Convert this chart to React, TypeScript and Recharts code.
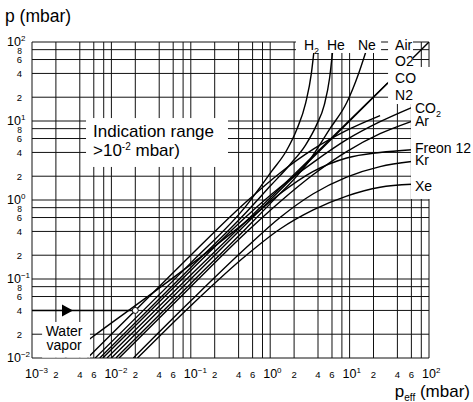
import React from "react";
import {
  LineChart,
  Line,
  XAxis,
  YAxis,
  CartesianGrid,
  ReferenceDot,
  ReferenceLine,
} from "recharts";

const FONT = "'Liberation Sans', Arial, Helvetica, sans-serif";

const W = 473;
const H = 402;
const MARGIN = { top: 42, right: 44, bottom: 0, left: 0 };
const Y_AXIS_W = 32;
const X_AXIS_H = 44;

const X_DOMAIN: [number, number] = [0.001, 100];
const Y_DOMAIN: [number, number] = [0.01, 100];

const X_TICKS = [
  0.001, 0.002, 0.004, 0.006, 0.008, 0.01, 0.02, 0.04, 0.06, 0.08, 0.1, 0.2,
  0.4, 0.6, 0.8, 1, 2, 4, 6, 8, 10, 20, 40, 60, 80, 100,
];
const Y_TICKS = [
  0.01, 0.02, 0.04, 0.06, 0.08, 0.1, 0.2, 0.4, 0.6, 0.8, 1, 2, 4, 6, 8, 10, 20,
  40, 60, 80, 100,
];

// [p_eff, p indicated]
const h2: [number, number][] = [
  [0.00625, 0.01], [0.1, 0.16], [0.5, 0.85], [1.04, 2.3], [1.6, 4.2],
  [2.16, 7.8], [2.8, 17], [3.3, 40], [3.55, 75],
];
const he: [number, number][] = [
  [0.00714, 0.01], [0.1, 0.14], [0.5, 0.7], [1, 1.5], [1.77, 2.8], [2.8, 5],
  [3.85, 9], [4.8, 16], [5.6, 35], [6.1, 75],
];
const ne: [number, number][] = [
  [0.0114, 0.01], [0.1, 0.088], [0.5, 0.44], [1, 0.9], [3, 3], [5.66, 8],
  [9.18, 17], [13, 40], [16, 75],
];
const n2: [number, number][] = [[0.01, 0.01], [1, 1], [100, 100]];
const o2: [number, number][] = [
  [0.0088, 0.01], [0.1, 0.112], [1, 1.07], [10, 10.2], [30, 30],
];
const co2: [number, number][] = [
  [0.0078, 0.01], [0.1, 0.128], [0.5, 0.62], [1.33, 1.45], [3.49, 3.0],
  [9.18, 5.8], [24.2, 9.8], [60.5, 14.8],
];
const ar: [number, number][] = [
  [0.0125, 0.01], [0.1, 0.08], [0.5, 0.39], [1.33, 0.95], [3.49, 2.1],
  [9.18, 4.1], [24.2, 6.9], [60.5, 9.9],
];
const freon: [number, number][] = [
  [0.0026, 0.01], [0.0057, 0.0183], [0.03, 0.062], [0.175, 0.234],
  [0.6, 0.62], [1.33, 1.2], [3.49, 2.3], [9.18, 3.4], [24.2, 4.0],
  [60.5, 4.33],
];
const kr: [number, number][] = [
  [0.0189, 0.01], [0.1, 0.053], [0.5, 0.25], [1.33, 0.6], [3.49, 1.2],
  [9.18, 1.95], [24.2, 2.65], [60.5, 3.07],
];
const xe: [number, number][] = [
  [0.0213, 0.01], [0.1, 0.046], [0.5, 0.2], [1.33, 0.43], [3.49, 0.75],
  [9.18, 1.12], [24.2, 1.45], [60.5, 1.58],
];
const water: [number, number][] = [
  [0.005, 0.01], [0.02, 0.04], [0.1, 0.2], [0.5, 0.95], [1.33, 2.2],
  [3.49, 4.4], [9.18, 7.6], [24.2, 11.7],
];

const WATER_MARK = { x: 0.02, y: 0.04 };
const ARROW_X = 0.00276;

const SERIES = [
  { name: "H2", pts: h2 },
  { name: "He", pts: he },
  { name: "Ne", pts: ne },
  { name: "N2", pts: n2 },
  { name: "O2", pts: o2 },
  { name: "CO2", pts: co2 },
  { name: "Ar", pts: ar },
  { name: "Freon 12", pts: freon },
  { name: "Kr", pts: kr },
  { name: "Xe", pts: xe },
  { name: "Water vapor", pts: water },
];

const toPts = (arr: [number, number][]) => arr.map(([x, y]) => ({ x, y }));

// same log mapping the chart uses, for the label overlay
const plotL = MARGIN.left + Y_AXIS_W;
const plotT = MARGIN.top;
const plotW = W - MARGIN.right - plotL;
const plotH = H - MARGIN.bottom - X_AXIS_H - plotT;
const lx0 = Math.log10(X_DOMAIN[0]);
const lx1 = Math.log10(X_DOMAIN[1]);
const ly0 = Math.log10(Y_DOMAIN[0]);
const ly1 = Math.log10(Y_DOMAIN[1]);
const sx = (v: number) => plotL + ((Math.log10(v) - lx0) / (lx1 - lx0)) * plotW;
const sy = (v: number) => plotT + ((ly1 - Math.log10(v)) / (ly1 - ly0)) * plotH;

const split = (v: number) => {
  const e = Math.floor(Math.log10(v) + 1e-9);
  const m = Math.round(v / Math.pow(10, e));
  return { e, m };
};
const supText = (e: number) => (e < 0 ? "\u2212" + -e : String(e));

const XTick = (props: any) => {
  const { x, payload } = props;
  const { e, m } = split(payload.value);
  if (m === 1)
    return (
      <text x={x - 7} y={378} fontSize={12.5} fontFamily={FONT} fill="#000">
        10
        <tspan dy={-5} fontSize={8}>
          {supText(e)}
        </tspan>
      </text>
    );
  if (m === 8) return <g />;
  return (
    <text x={x} y={378} fontSize={9.5} textAnchor="middle" fontFamily={FONT} fill="#000">
      {m}
    </text>
  );
};

const YTick = (props: any) => {
  const { y, payload } = props;
  const { e, m } = split(payload.value);
  if (m === 1)
    return (
      <text x={7} y={y + 4} fontSize={12.5} fontFamily={FONT} fill="#000">
        10
        <tspan dy={-5} fontSize={8}>
          {supText(e)}
        </tspan>
      </text>
    );
  return (
    <text
      x={19.5}
      y={y + (m === 8 ? 4 : 3.5)}
      fontSize={m === 8 ? 8.5 : 9.5}
      textAnchor="middle"
      fontFamily={FONT}
      fill="#000"
    >
      {m}
    </text>
  );
};

const sub = (s: string) => (
  <tspan dy={4} fontSize={9}>
    {s}
  </tspan>
);

type Item = { dx: number; dy: number; text: React.ReactNode; anchor?: string; size?: number };
type Box = { x1: number; x2: number; y1: number; y2: number; items: Item[] };

// white label backgrounds (data units) with their texts
const BOXES: Box[] = [
  {
    x1: 0.00479, x2: 0.294, y1: 2.62, y2: 10.9,
    items: [
      { dx: 7, dy: 19, text: "Indication range", size: 17 },
      {
        dx: 7, dy: 38, size: 17,
        text: (
          <>
            {">10"}
            <tspan dy={-6} fontSize={10}>-2</tspan>
            <tspan dy={6}> mbar)</tspan>
          </>
        ),
      },
    ],
  },
  {
    x1: 0.00134, x2: 0.00537, y1: 0.0101, y2: 0.0286,
    items: [
      { dx: 22, dy: 14, text: "Water", anchor: "middle" },
      { dx: 22, dy: 28, text: "vapor", anchor: "middle" },
    ],
  },
  {
    x1: 2.11, x2: 24.9, y1: 72.6, y2: 130,
    items: [
      { dx: 8, dy: 17, text: <>H{sub("2")}</> },
      { dx: 31, dy: 17, text: "He" },
      { dx: 62, dy: 17, text: "Ne" },
    ],
  },
  { x1: 62.9, x2: 109, y1: 16.4, y2: 48.3, items: [] },
  {
    x1: 30.5, x2: 62.9, y1: 16.4, y2: 130,
    items: [
      { dx: 7, dy: 17, text: "Air" },
      { dx: 7, dy: 33, text: "O2" },
      { dx: 7, dy: 50, text: "CO" },
      { dx: 7, dy: 67, text: "N2" },
    ],
  },
  {
    x1: 59.3, x2: 358, y1: 1.03, y2: 18.5,
    items: [
      { dx: 4, dy: 13, text: <>CO{sub("2")}</> },
      { dx: 4, dy: 26, text: "Ar" },
      { dx: 4, dy: 53, text: "Freon 12" },
      { dx: 4, dy: 65, text: "Kr" },
      { dx: 4, dy: 91, text: "Xe" },
    ],
  },
];

const Triangle = (p: any) => (
  <polygon
    points={`${p.cx - 5},${p.cy - 6} ${p.cx + 6},${p.cy} ${p.cx - 5},${p.cy + 6}`}
    fill="#000"
  />
);

export default function App() {
  return (
    <div style={{ position: "relative", width: W, height: H, background: "#fff" }}>
      <style>{"body{margin:0;background:#fff}"}</style>
      <LineChart width={W} height={H} margin={MARGIN}>
        <CartesianGrid stroke="#111" strokeWidth={1} />
        <XAxis
          dataKey="x"
          type="number"
          scale="log"
          domain={X_DOMAIN}
          ticks={X_TICKS}
          interval={0}
          allowDataOverflow
          axisLine={false}
          tickLine={false}
          height={X_AXIS_H}
          tick={<XTick />}
        />
        <YAxis
          type="number"
          scale="log"
          domain={Y_DOMAIN}
          ticks={Y_TICKS}
          interval={0}
          allowDataOverflow
          axisLine={false}
          tickLine={false}
          width={Y_AXIS_W}
          tick={<YTick />}
        />
        {SERIES.map((s) => (
          <Line
            key={s.name}
            name={s.name}
            data={toPts(s.pts)}
            dataKey="y"
            type="monotone"
            dot={false}
            stroke="#000"
            strokeWidth={1.4}
            isAnimationActive={false}
          />
        ))}
        <ReferenceLine
          segment={[
            { x: X_DOMAIN[0], y: WATER_MARK.y },
            { x: WATER_MARK.x, y: WATER_MARK.y },
          ]}
          stroke="#000"
          strokeWidth={1.5}
        />
        <ReferenceDot
          x={ARROW_X}
          y={WATER_MARK.y}
          r={6}
          ifOverflow="visible"
          shape={<Triangle />}
        />
        <ReferenceDot
          x={WATER_MARK.x}
          y={WATER_MARK.y}
          r={3}
          fill="#fff"
          stroke="#000"
          strokeWidth={1}
        />
      </LineChart>
      <svg
        width={W}
        height={H}
        style={{ position: "absolute", left: 0, top: 0, pointerEvents: "none" }}
      >
        {BOXES.map((b, i) => {
          const x = sx(b.x1);
          const y = sy(b.y2);
          return (
            <g key={i}>
              <rect x={x} y={y} width={sx(b.x2) - x} height={sy(b.y1) - y} fill="#fff" />
              {b.items.map((it, j) => (
                <text
                  key={j}
                  x={x + it.dx}
                  y={y + it.dy}
                  fontSize={it.size ?? 14}
                  fontFamily={FONT}
                  textAnchor={it.anchor ?? "start"}
                  fill="#000"
                >
                  {it.text}
                </text>
              ))}
            </g>
          );
        })}
        <text x={5} y={22} fontSize={17.5} fontFamily={FONT} fill="#000">
          p (mbar)
        </text>
        <text x={470} y={397} fontSize={17} fontFamily={FONT} fill="#000" textAnchor="end">
          p
          <tspan dy={4} fontSize={10}>
            eff
          </tspan>
          <tspan dy={-4}> (mbar)</tspan>
        </text>
      </svg>
    </div>
  );
}
